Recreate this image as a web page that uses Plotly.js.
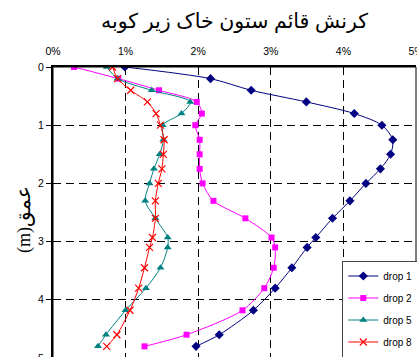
<!DOCTYPE html>
<html>
<head>
<meta charset="utf-8">
<script src="https://cdn.plot.ly/plotly-3.0.1.min.js"></script>
<style>
html,body{margin:0;padding:0;overflow:hidden;background:#fff;}
#chart{width:430px;height:380px;}
</style>
</head>
<body>
<div id="chart"></div>
<script>
const depth = [0,0.2,0.4,0.6,0.8,1.0,1.25,1.5,1.75,2.0,2.3,2.6,2.93,3.1,3.45,3.8,4.18,4.6,4.8];
const drop1 = [0.99,2.17,2.73,3.49,4.15,4.53,4.68,4.65,4.51,4.31,4.09,3.85,3.62,3.50,3.29,3.06,2.76,2.29,1.97];
const drop2 = [0.29,0.90,1.46,1.98,2.05,1.96,2.02,2.02,2.02,2.06,2.21,2.65,3.01,3.06,3.04,2.91,2.61,1.84,1.26];
const drop5 = [0.74,0.89,1.36,1.89,1.77,1.51,1.52,1.47,1.39,1.33,1.27,1.41,1.58,1.58,1.48,1.28,1.00,0.73,0.62];
const drop8 = [0.82,0.89,1.07,1.30,1.42,1.48,1.53,1.52,1.50,1.45,1.41,1.41,1.37,1.33,1.26,1.18,1.06,0.88,0.74];
const seriesNames = ['drop 1','drop 2','drop 5','drop 8'];
const titleText = 'کرنش قائم ستون خاک زیر کوبه';
const yTitleUnit = '(m)';
const yTitleWord = 'عمق';
const xTicks = [0,1,2,3,4,5];
const yTicks = [0,1,2,3,4,5];

const styles = [
  {color:'#000080', symbol:'diamond', size:7},
  {color:'#FF00FF', symbol:'square', size:6},
  {color:'#008080', symbol:'triangle-up', size:7},
  {color:'#FF0000', symbol:'x-thin-open', size:7}
];
const values = [drop1, drop2, drop5, drop8];

const traces = values.map((v,i)=>({
  x: v, y: depth, type:'scatter', mode:'lines+markers', name: seriesNames[i],
  legendgroup: 'g'+i,
  line:{color: styles[i].color, width:1, shape:'spline', smoothing:0.8},
  marker:{symbol: styles[i].symbol, size: styles[i].size, color: styles[i].color,
          line:{color: styles[i].color, width: i===3 ? 1.2 : 0}}
}));

const gridDash = '8px,5px';
const layout = {
  width:430, height:380,
  margin:{l:53, r:14, t:67, b:22},
  paper_bgcolor:'#fff', plot_bgcolor:'#fff',
  font:{family:'"Liberation Sans", Arial, sans-serif', size:10.5, color:'#000'},
  title:{text:titleText, x:0.5, xref:'paper', xanchor:'center', y:(380-21)/380, yanchor:'middle',
         font:{family:'"Liberation Sans", "DejaVu Sans", sans-serif', size:20.5, color:'#000'}},
  showlegend:true,
  legend:{x:0.797, y:0.335, xanchor:'left', yanchor:'top', bgcolor:'#fff', bordercolor:'#444', borderwidth:1,
          font:{size:10, color:'#000'}, tracegroupgap:3, traceorder:'grouped'},
  xaxis:{range:[0,5], side:'top', tickvals:xTicks, ticktext:xTicks.map(t=>t+'%'), ticks:'', ticklabelstandoff:6,
         showgrid:true, gridcolor:'#000', gridwidth:1, griddash:gridDash, zeroline:false,
         showline:true, linecolor:'#000', linewidth:2, fixedrange:true},
  yaxis:{range:[5,0], tickvals:yTicks, ticks:'outside', ticklen:5, tickcolor:'#000', tickwidth:1,
         showgrid:true, gridcolor:'#000', gridwidth:1, griddash:gridDash, zeroline:false,
         showline:true, linecolor:'#000', linewidth:2},
  annotations:[{text: yTitleUnit + '<span style="font-size:20px">' + yTitleWord + '</span>',
                xref:'paper', yref:'paper', x:(23-53)/363, y:(358-220)/291, xanchor:'center', yanchor:'middle',
                textangle:-90, showarrow:false,
                font:{family:'"Liberation Serif", "DejaVu Serif", serif', size:18, color:'#000'}}],
  shapes:[{type:'rect', xref:'paper', yref:'paper', x0:0, x1:1, y0:0, y1:1, line:{color:'#000', width:1}, layer:'above'}]
};
Plotly.newPlot('chart', traces, layout, {displayModeBar:false, staticPlot:true});
</script>
</body>
</html>
